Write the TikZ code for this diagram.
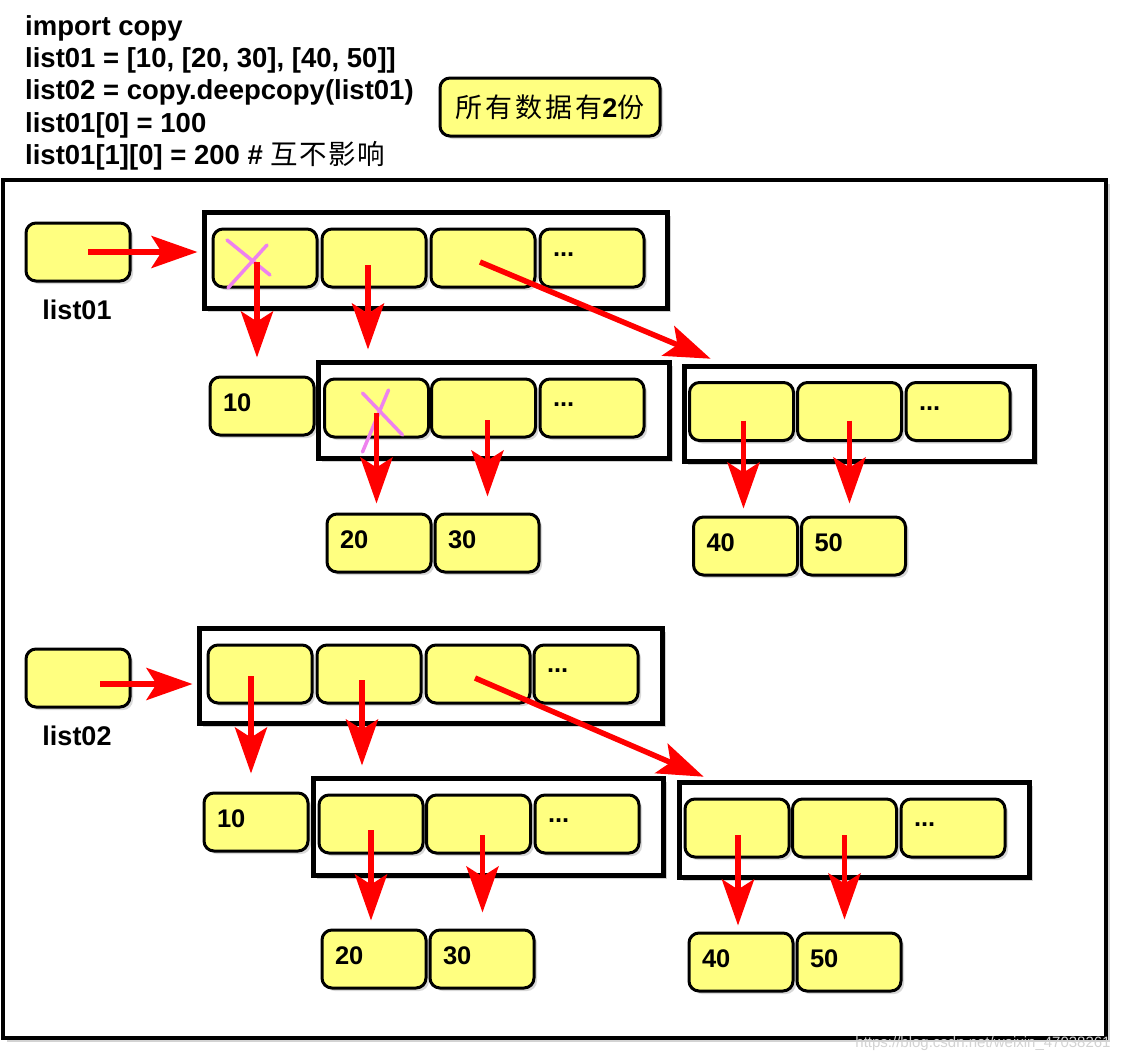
\documentclass[tikz,border=0pt]{standalone}
\usepackage{fontspec}
\setmainfont{Liberation Sans}
\newfontfamily\cjk[LetterSpace=5]{Noto Sans CJK SC}
\newfontfamily\cjkwide[LetterSpace=11]{Noto Sans CJK SC}
\usetikzlibrary{arrows.meta,shadows}
\definecolor{cellyel}{HTML}{FFFF80}
\definecolor{crosspink}{HTML}{EE82EE}

\begin{document}
\begin{tikzpicture}[x=1pt,y=-1pt,>={Stealth[length=46pt,width=32pt,inset=10pt]},
  cell/.style={draw,line width=3pt,rounded corners=10pt,fill=cellyel,
    minimum width=104pt,minimum height=58pt,inner xsep=13pt,text width=78pt,
    text depth=6pt,align=left,font=\bfseries\fontsize{25.5}{25.5}\selectfont,
    drop shadow={opacity=0.3,shadow xshift=3pt,shadow yshift=-3pt}},
  frame/.style={draw,line width=5pt,fill=white,
    drop shadow={opacity=0.35,shadow xshift=4pt,shadow yshift=-4pt}},
  ptr/.style={->,red,line width=5.5pt},
  cross/.style={crosspink,line width=3.5pt,line cap=round},
  code/.style={anchor=base west,inner sep=0pt,font=\bfseries\fontsize{27.5}{27.5}\selectfont},
  varname/.style={font=\bfseries\fontsize{27}{27}\selectfont}]
\useasboundingbox (0,0) rectangle (1128,1061);

% code
\node[code] (code1) at (25,35) {import copy};
\node[code] (code2) at (25,67) {list01 = [10, [20, 30], [40, 50]]};
\node[code] (code3) at (25,99) {list02 = copy.deepcopy(list01)};
\node[code] (code4) at (25,132) {list01[0] = 100};
\node[code] (code5) at (25,164) {list01[1][0] = 200 \# {\mdseries\cjk 互不影响}};
\node[draw,line width=3pt,rounded corners=10pt,fill=cellyel,minimum width=220pt,
  minimum height=58pt,font=\fontsize{27}{27}\selectfont,
  drop shadow={opacity=0.3,shadow xshift=3pt,shadow yshift=-3pt}] (note) at (550,107)
  {{\cjkwide 所有数据有}{\bfseries 2}{\cjkwide 份}};

% outer frame
\node[draw,line width=4.5pt,minimum width=1103pt,minimum height=858pt,
  drop shadow={opacity=0.35,shadow xshift=4pt,shadow yshift=-4pt},fill=white] (outer) at (554.5,609) {};

% list01
\node[cell] (v1) at (78,252) {};
\node[varname] (l1) at (77,310) {list01};
\node[frame,minimum width=463pt,minimum height=96pt] (F1) at (435.5,260) {};
\node[cell] (a1) at (265,258) {};
\node[cell] (a2) at (374,258) {};
\node[cell] (a3) at (483,258) {};
\node[cell] (a4) at (592,258) {...};
\node[cell] (n10) at (262,406) {10};
\node[frame,minimum width=351pt,minimum height=96pt] (FA) at (493.5,410) {};
\node[cell] (b1) at (376.5,408) {};
\node[cell] (b2) at (483.5,408) {};
\node[cell] (b3) at (592,408) {...};
\node[cell] (n20) at (379,543) {20};
\node[cell] (n30) at (487,543) {30};
\node[frame,minimum width=350pt,minimum height=95pt] (FB) at (859,413.5) {};
\node[cell] (c1) at (741.5,411.5) {};
\node[cell] (c2) at (849.5,411.5) {};
\node[cell] (c3) at (958,411.5) {...};
\node[cell] (n40) at (745.5,546) {40};
\node[cell] (n50) at (853.5,546) {50};

% list02
\node[cell] (v2) at (78,678) {};
\node[varname] (l2) at (77,736) {list02};
\node[frame,minimum width=463pt,minimum height=95pt] (F2) at (430.5,675.5) {};
\node[cell] (d1) at (260,674) {};
\node[cell] (d2) at (369,674) {};
\node[cell] (d3) at (478,674) {};
\node[cell] (d4) at (586,674) {...};
\node[cell] (m10) at (256,822) {10};
\node[frame,minimum width=350pt,minimum height=97pt] (FA2) at (488,826.5) {};
\node[cell] (e1) at (371,824) {};
\node[cell] (e2) at (478.5,824) {};
\node[cell] (e3) at (587,824) {...};
\node[cell] (m20) at (374,959) {20};
\node[cell] (m30) at (482,959) {30};
\node[frame,minimum width=350pt,minimum height=95pt] (FB2) at (854,829.5) {};
\node[cell] (f1) at (737,828) {};
\node[cell] (f2) at (844.5,828) {};
\node[cell] (f3) at (953,828) {...};
\node[cell] (m40) at (741,962) {40};
\node[cell] (m50) at (849,962) {50};

% changed items
\draw[cross] ([shift={(-38,-18)}]a1.center) -- ([shift={(5,17)}]a1.center);
\draw[cross] ([shift={(-37,30)}]a1.center) -- ([shift={(2,-13)}]a1.center);
\draw[cross] ([shift={(-14,-15)}]b1.center) -- ([shift={(26,27)}]b1.center);
\draw[cross] ([shift={(-14,44)}]b1.center) -- ([shift={(12,-18)}]b1.center);

% pointers
\draw[ptr,shorten >=4pt] ([xshift=10pt]v1.center) -- (v1.center -| F1.west);
\draw[ptr,shorten >=18pt] ([shift={(-8,4)}]a1.center) -- ([xshift=-8pt]a1.center |- n10.north);
\draw[ptr,shorten >=10pt] ([shift={(-6,7)}]a2.center) -- ([xshift=-6pt]a2.center |- FA.north);
\draw[ptr,shorten >=2pt] ([shift={(-3,4)}]a3.center) -- ([shift={(31,-4)}]FB.north west);
\draw[ptr,shorten >=9pt] ([shift={(0,5)}]b1.center) -- (b1.center |- n20.north);
\draw[ptr,shorten >=16pt] ([shift={(4,12)}]b2.center) -- ([xshift=4pt]b2.center |- n30.north);
\draw[ptr,shorten >=7pt] ([shift={(2,9)}]c1.center) -- ([xshift=2pt]c1.center |- n40.north);
\draw[ptr,shorten >=12pt] ([shift={(0,9)}]c2.center) -- (c2.center |- n50.north);

\draw[ptr,shorten >=4pt] ([shift={(22,6)}]v2.center) -- ([shift={(0,6)}]v2.center -| F2.west);
\draw[ptr,shorten >=18pt] ([shift={(-9,2)}]d1.center) -- ([xshift=-9pt]d1.center |- m10.north);
\draw[ptr,shorten >=10pt] ([shift={(-7,6)}]d2.center) -- ([xshift=-7pt]d2.center |- FA2.north);
\draw[ptr,shorten >=2pt] ([shift={(-3,4)}]d3.center) -- ([shift={(29,-2)}]FB2.north west);
\draw[ptr,shorten >=8pt] ([shift={(0,6)}]e1.center) -- (e1.center |- m20.north);
\draw[ptr,shorten >=16pt] ([shift={(4,11)}]e2.center) -- ([xshift=4pt]e2.center |- m30.north);
\draw[ptr,shorten >=6pt] ([shift={(1,7)}]f1.center) -- ([xshift=1pt]f1.center |- m40.north);
\draw[ptr,shorten >=12pt] ([shift={(0,7)}]f2.center) -- (f2.center |- m50.north);

% watermark
\node[text=gray!35,font=\fontsize{15}{15}\selectfont] (mark) at (983,1044) {https://blog.csdn.net/weixin\_47038261};
\end{tikzpicture}
\end{document}
